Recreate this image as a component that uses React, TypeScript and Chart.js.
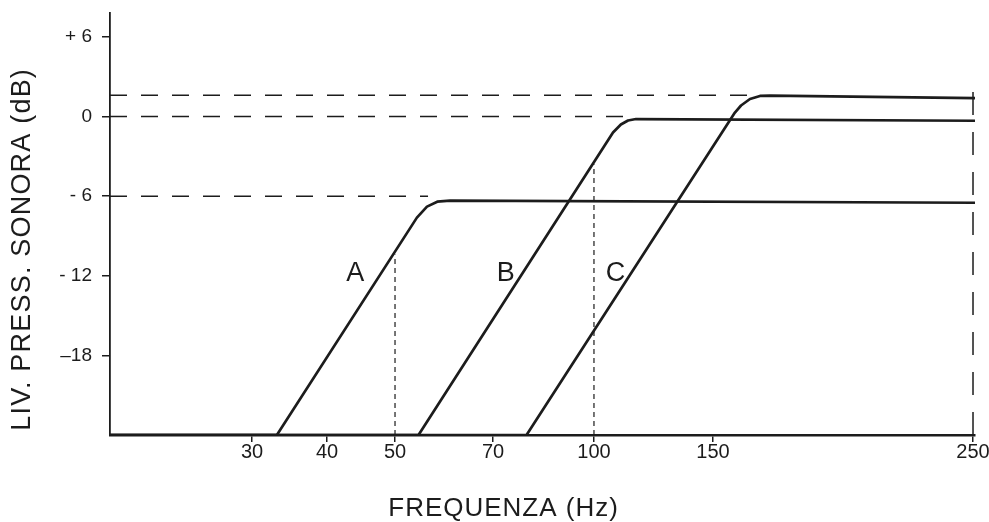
import React, { useEffect, useRef } from 'react';
import { Chart, registerables, LinearScale } from 'chart.js';

// ---------- data ----------
const X_TICKS = [30, 40, 50, 70, 100, 150, 250];
const Y_TICKS = [-18, -12, -6, 0, 6];
const Y_TICK_LABELS = ['\u201318', '- 12', '- 6', '0', '+ 6'];

const X_TITLE = 'FREQUENZA (Hz)';
const Y_TITLE = 'LIV. PRESS. SONORA (dB)';

// curve A
const FREQ_A = [18, 33.0, 53.9, 55.8, 57.8, 60.4, 251];
const DB_A = [-24, -24, -7.62, -6.79, -6.42, -6.34, -6.5];
// curve B
const FREQ_B = [18, 54.2, 106.7, 109.6, 112.3, 115.4, 251];
const DB_B = [-24, -24, -1.2, -0.6, -0.3, -0.19, -0.32];
// curve C
const FREQ_C = [18, 78.8, 156.6, 158.5, 161.3, 164.5, 167.8, 251];
const DB_C = [-24, -24, 0.3, 0.83, 1.32, 1.55, 1.58, 1.38];

// dashed reference levels (dB) and the frequency where each stops
const REF_LEVELS = [-6, 0, 1.6];
const REF_END_FREQ = [56, 114, 164];

// vertical marker lines at given frequencies, from bottom up to a level
const MARK_FREQ = [50, 100, 250];
const MARK_TOP_DB = [-10.4, -3.6, 2.4];

// curve labels
const LABEL_TEXT = ['A', 'B', 'C'];
const LABEL_FREQ = [43.9, 73.2, 107.6];
const LABEL_DB = [-11.8, -11.8, -11.8];

const X_MIN = 18;
const X_MAX = 251;
const Y_MIN = -24;
const Y_MAX = 7.8;

// ---------- the hand-drawn frequency axis: where each frequency sits along it ----------
const AXIS_KNOT_FREQ = [18, 30, 40, 50, 70, 100, 150, 250, 251];
const AXIS_KNOT_FRAC = [0, 0.1642, 0.2509, 0.3295, 0.4428, 0.5595, 0.6971, 0.9977, 1];

function freqToFrac(v: number): number {
  const k = AXIS_KNOT_FREQ;
  const p = AXIS_KNOT_FRAC;
  const n = k.length;
  let i = 0;
  if (v <= k[0]) i = 0;
  else if (v >= k[n - 1]) i = n - 2;
  else {
    while (i < n - 2 && v > k[i + 1]) i++;
  }
  const t = Math.log(v / k[i]) / Math.log(k[i + 1] / k[i]);
  return p[i] + t * (p[i + 1] - p[i]);
}

function fracToFreq(d: number): number {
  const k = AXIS_KNOT_FREQ;
  const p = AXIS_KNOT_FRAC;
  const n = p.length;
  let i = 0;
  if (d <= p[0]) i = 0;
  else if (d >= p[n - 1]) i = n - 2;
  else {
    while (i < n - 2 && d > p[i + 1]) i++;
  }
  const t = (d - p[i]) / (p[i + 1] - p[i]);
  return k[i] * Math.pow(k[i + 1] / k[i], t);
}

class DrawnFrequencyScale extends LinearScale {
  static id = 'drawnFrequency';
  getPixelForValue(value: number) {
    return this.getPixelForDecimal(freqToFrac(value));
  }
  getValueForPixel(pixel: number) {
    return fracToFreq(this.getDecimalForPixel(pixel));
  }
}

Chart.register(...registerables, DrawnFrequencyScale as any);

const INK = '#1c1c1c';
const FONT = '"Liberation Sans", Arial, sans-serif';

const zip = (xs: number[], ys: number[]) => xs.map((x, i) => ({ x, y: ys[i] }));

const labelPlugin = {
  id: 'curveLabels',
  afterDatasetsDraw(chart: any) {
    const { ctx, scales } = chart;
    ctx.save();
    ctx.font = `27px ${FONT}`;
    ctx.fillStyle = INK;
    ctx.textAlign = 'center';
    ctx.textBaseline = 'middle';
    LABEL_TEXT.forEach((t, i) => {
      ctx.fillText(t, scales.x.getPixelForValue(LABEL_FREQ[i]), scales.y.getPixelForValue(LABEL_DB[i]));
    });
    ctx.restore();
  },
};

const axisTitlePlugin = {
  id: 'axisTitles',
  afterDraw(chart: any) {
    const { ctx, chartArea } = chart;
    const w = chartArea.right - chartArea.left;
    const h = chartArea.bottom - chartArea.top;
    ctx.save();
    ctx.fillStyle = INK;
    ctx.textAlign = 'center';
    ctx.textBaseline = 'middle';
    // x title
    ctx.font = `26px ${FONT}`;
    ctx.letterSpacing = '1px';
    ctx.fillText(X_TITLE, chartArea.left + 0.455 * w, chart.height - 13);
    // y title
    ctx.font = `27px ${FONT}`;
    ctx.letterSpacing = '1.2px';
    ctx.translate(23, chartArea.top + 0.56 * h);
    ctx.rotate(-Math.PI / 2);
    ctx.fillText(Y_TITLE, 0, 0);
    ctx.restore();
  },
};

export default function App() {
  const ref = useRef<HTMLCanvasElement>(null);
  useEffect(() => {
    document.body.style.margin = '0';
    Chart.defaults.font.family = FONT;
    Chart.defaults.color = INK;

    const curve = (xs: number[], ys: number[]) => ({
      data: zip(xs, ys),
      borderColor: INK,
      borderWidth: 2.7,
      pointRadius: 0,
      tension: 0,
      fill: false,
      borderJoinStyle: 'round' as const,
      borderCapStyle: 'butt' as const,
    });

    const refLines = REF_LEVELS.map((lvl, i) => ({
      data: [
        { x: X_MIN, y: lvl },
        { x: REF_END_FREQ[i], y: lvl },
      ],
      borderColor: INK,
      borderWidth: 1.5,
      borderDash: [17, 14],
      pointRadius: 0,
      tension: 0,
      fill: false,
    }));

    const markLines = MARK_FREQ.map((f, i) => ({
      data: [
        { x: f, y: Y_MIN },
        { x: f, y: MARK_TOP_DB[i] },
      ],
      borderColor: INK,
      borderWidth: i === 2 ? 1.5 : 1.2,
      borderDash: i === 2 ? [23, 17] : [5, 4],
      pointRadius: 0,
      tension: 0,
      fill: false,
    }));

    const chart = new Chart(ref.current as HTMLCanvasElement, {
      type: 'line',
      data: {
        datasets: [curve(FREQ_A, DB_A), curve(FREQ_B, DB_B), curve(FREQ_C, DB_C), ...refLines, ...markLines] as any,
      },
      options: {
        responsive: false,
        animation: false,
        layout: { padding: { top: 13, right: 14, left: 0, bottom: 0 } },
        plugins: { legend: { display: false }, tooltip: { enabled: false } },
        scales: {
          x: {
            type: 'drawnFrequency' as any,
            min: X_MIN,
            max: X_MAX,
            afterBuildTicks: (s: any) => {
              s.ticks = X_TICKS.map((v) => ({ value: v }));
            },
            afterFit: (s: any) => {
              s.height = 87;
              s.paddingLeft = 0;
              s.paddingRight = 0;
            },
            ticks: {
              autoSkip: false,
              maxRotation: 0,
              padding: 0,
              color: INK,
              font: { size: 20, lineHeight: 1 },
              callback: (v: any) => String(v),
            },
            grid: { drawOnChartArea: false, drawTicks: true, tickLength: 7, color: INK, lineWidth: 1.5 },
            border: { display: true, color: INK, width: 2.6 },
            title: { display: false },
          } as any,
          y: {
            type: 'linear',
            min: Y_MIN,
            max: Y_MAX,
            afterBuildTicks: (s: any) => {
              s.ticks = Y_TICKS.map((v) => ({ value: v }));
            },
            afterFit: (s: any) => {
              s.width = 110;
              s.paddingTop = 0;
              s.paddingBottom = 0;
            },
            ticks: {
              autoSkip: false,
              padding: 10,
              color: INK,
              font: { size: 19 },
              callback: (_v: any, i: number) => Y_TICK_LABELS[i],
            },
            grid: { drawOnChartArea: false, drawTicks: true, tickLength: 8, color: INK, lineWidth: 1.5 },
            border: { display: true, color: INK, width: 1.8 },
            title: { display: false },
          } as any,
        },
      },
      plugins: [labelPlugin, axisTitlePlugin],
    });
    return () => chart.destroy();
  }, []);

  return (
    <div style={{ width: 989, height: 522 }}>
      <canvas ref={ref} width={989} height={522} style={{ display: 'block' }} />
    </div>
  );
}
